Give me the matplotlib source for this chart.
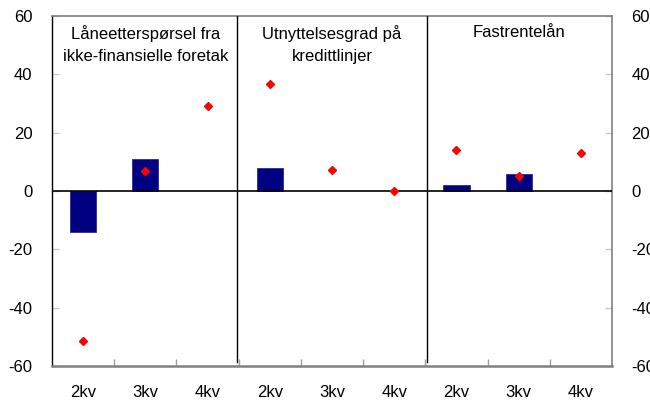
import numpy as np
import matplotlib
matplotlib.use("Agg")
import matplotlib.pyplot as plt

plt.rcParams['font.family'] = ['Liberation Sans', 'DejaVu Sans']

categories = ['2kv', '3kv', '4kv', '2kv', '3kv', '4kv', '2kv', '3kv', '4kv']
bar_values = [-14.1, 11.0, np.nan, 8.0, np.nan, np.nan, 2.0, 5.9, np.nan]
dot_values = [-51.4, 6.7, 29.2, 36.7, 7.2, 0.0, 14.0, 5.0, 13.0]
panel_titles = ['Låneetterspørsel fra\nikke-finansielle foretak',
                'Utnyttelsesgrad på\nkredittlinjer',
                'Fastrentelån']
y_ticks = [-60, -40, -20, 0, 20, 40, 60]

fig = plt.figure(figsize=(6.5, 4.05), dpi=100)
ax = fig.add_axes([52/650, 1-366/405, (612-52)/650, (366-16)/405])

x = np.arange(len(categories))
ax.bar(x, bar_values, width=0.42, color='#000080', edgecolor='#2a2a98', linewidth=0.6, zorder=2)
ax.plot(x, dot_values, linestyle='none', marker='D', markersize=4.2,
        color='#ff0000', zorder=4)

ax.set_xlim(-0.5, len(categories) - 0.5)
ax.set_ylim(-60, 60)
ax.axhline(0, color='black', linewidth=1.2, zorder=3)
for b in [2.48, 5.52]:
    ax.plot([b, b], [-58.5, 60], color='black', linewidth=1.0, zorder=3)

ax.set_yticks(y_ticks)
ax.set_yticklabels([str(v) for v in y_ticks])
ax.set_xticks(x)
ax.set_xticklabels(categories)
ax.tick_params(axis='x', which='major', length=0, pad=14, labelsize=12)
ax.set_xticks(np.arange(0.5, len(categories) - 1, 1), minor=True)
ax.tick_params(axis='x', which='minor', direction='in', length=5, color='#a0a0a0', width=1)
ax.tick_params(axis='y', direction='in', length=5, color='#c8c8c8', width=1,
               labelsize=12, pad=14, left=True, right=True, labelleft=True, labelright=True)

for side in ['top', 'right', 'bottom']:
    ax.spines[side].set_color('#808080')
ax.spines['bottom'].set_linewidth(1.8)
ax.spines['top'].set_linewidth(1.2)
ax.spines['right'].set_linewidth(1.2)
ax.spines['left'].set_color('black')
ax.spines['left'].set_linewidth(1.0)

centers = [1, 4, 7]
for c, t in zip(centers, panel_titles):
    ax.text(c, 56.8, t, ha='center', va='top', fontsize=12, linespacing=1.6, zorder=5)

fig.savefig('out.png', dpi=100)
